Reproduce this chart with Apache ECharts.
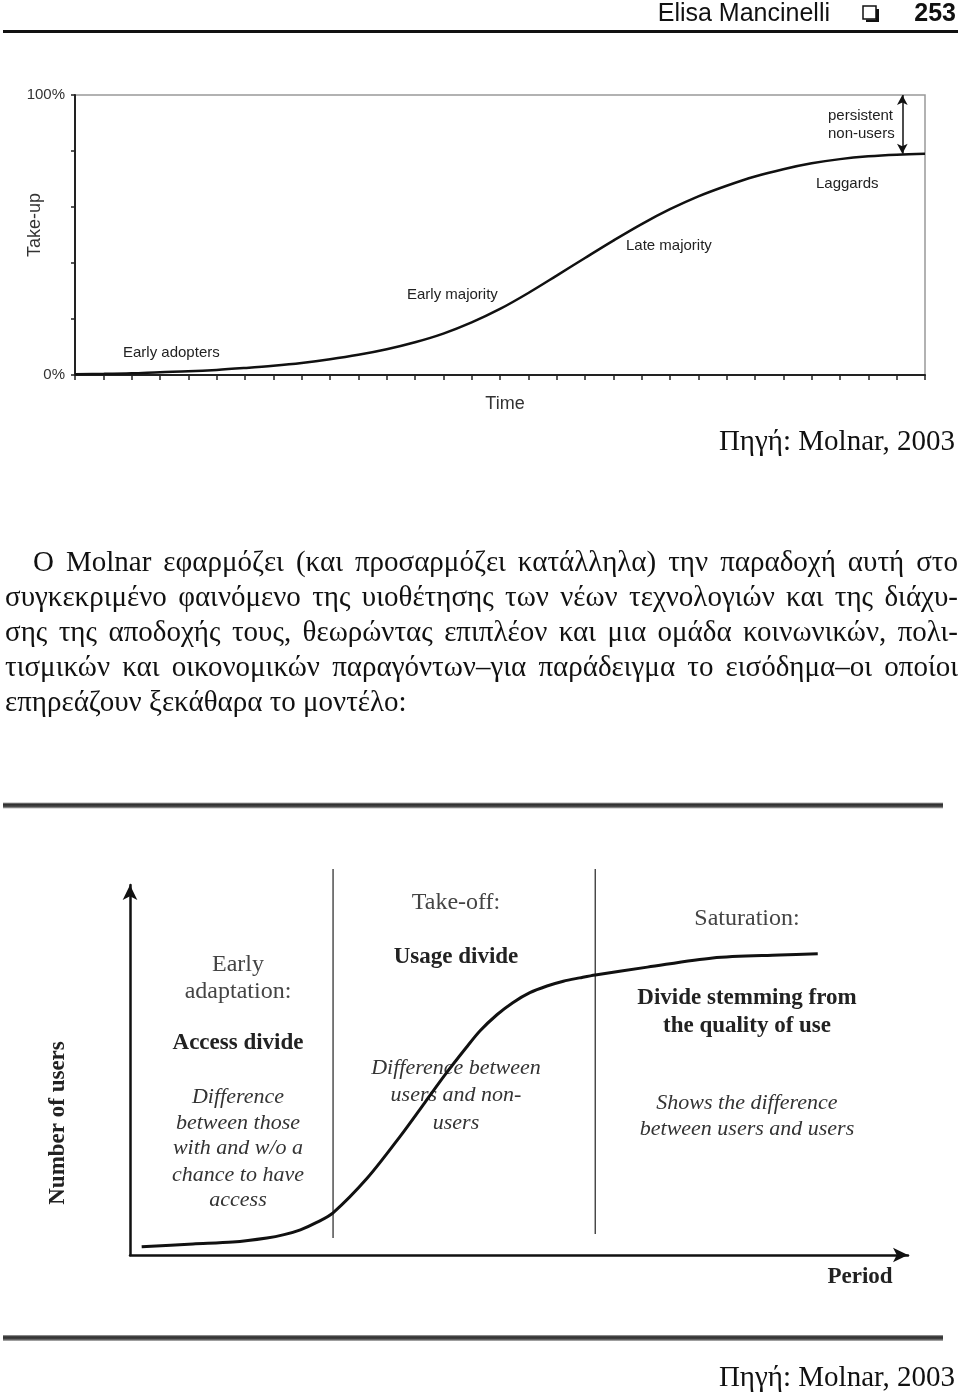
<!DOCTYPE html>
<html>
<head>
<meta charset="utf-8">
<script src="https://cdn.jsdelivr.net/npm/echarts@6/dist/echarts.min.js"></script>
<style>
html,body{margin:0;padding:0;background:#fff;}
#page{position:relative;width:960px;height:1398px;overflow:hidden;background:#fff;}
#chart{position:absolute;left:0;top:0;width:960px;height:1398px;}
#para{position:absolute;left:5px;top:544px;width:953px;font-family:"Liberation Serif","Times New Roman",serif;font-size:29px;line-height:35px;color:#111;}
#para div{text-align:justify;text-align-last:justify;height:35px;}
#para div.first{text-indent:28px;}
#para div.last{text-align:left;text-align-last:left;}
</style>
</head>
<body>
<div id="page">
  <div id="chart"></div>
  <div id="para"></div>
</div>
<script>
// ---------- Data: top chart (diffusion S-curve, Take-up % over Time ticks) ----------
const takeupX = [0,1,2,3,4,5,6,7,8,9,10,11,12,13,14,15,16,17,18,19,20,21,22,23,24,25,26,27,28,29,30];
const takeupY = [0.3,0.4,0.6,1.0,1.3,1.8,2.5,3.3,4.3,5.6,7.2,9.2,11.7,14.8,18.8,23.6,29.3,35.5,41.8,48,53.9,59.2,63.8,67.6,70.9,73.5,75.6,77.1,78.1,78.7,79];
const takeupTicks = ['0%','100%'];
const persistentAt = 29.2;      // x position of the "persistent non-users" gap arrow
const plateauLevel = 79;        // saturation level (% take-up)

// ---------- Data: bottom chart (Number of users over Period) ----------
const periodX = [1.5,8.1,13.2,17.6,19.8,21.9,24.0,26.1,30.5,34.7,37.9,40.6,43.2,45.0,47.2,49.2,51.4,53.6,55.7,57.8,59.8,66.5,74.9,83.5,88.4];
const usersY  = [2.2,3.0,3.5,4.6,5.5,6.8,8.8,11.4,20.8,32.0,41.2,49.0,56.0,60.6,65.0,68.2,70.9,72.7,74.0,74.9,75.7,77.8,80.3,81.1,81.4];
const stageDividers = [26.1, 59.8];
const dividerFrom = [4.6, 5.7];
const dividerTo = [104.3, 104.3];

// ---------- Text ----------
const topLabels = ['Early adopters','Early majority','Late majority','Laggards','persistent','non-users'];
const stageTitles = [['Early','adaptation:'],['Take-off:'],['Saturation:']];
const stageDivides = [['Access divide'],['Usage divide'],['Divide stemming from','the quality of use']];
const stageNotes = [
  ['Difference','between those','with and w/o a','chance to have','access'],
  ['Difference between','users and non-','users'],
  ['Shows the difference','between users and users']
];
const paraLines = [
  'Ο Molnar εφαρμόζει (και προσαρμόζει κατάλληλα) την παραδοχή αυτή στο',
  'συγκεκριμένο φαινόμενο της υιοθέτησης των νέων τεχνολογιών και της διάχυ-',
  'σης της αποδοχής τους, θεωρώντας επιπλέον και μια ομάδα κοινωνικών, πολι-',
  'τισμικών και οικονομικών παραγόντων–για παράδειγμα το εισόδημα–οι οποίοι',
  'επηρεάζουν ξεκάθαρα το μοντέλο:'
];
const sourceText = 'Πηγή: Molnar, 2003';

// paragraph (justified lines)
const para = document.getElementById('para');
paraLines.forEach((t,i)=>{
  const d = document.createElement('div');
  d.textContent = t;
  if(i===0) d.className='first';
  if(i===paraLines.length-1) d.className='last';
  para.appendChild(d);
});

const SANS = '"Liberation Sans", Arial, sans-serif';
const SERIF = '"Liberation Serif", "Times New Roman", serif';

function txt(x,y,text,font,fill,align,rot){
  return {type:'text', x:x, y:y, rotation:rot||0, silent:true,
    style:{text:text, font:font, fill:fill||'#222', textAlign:align||'left', textVerticalAlign:'middle'}};
}

const g = [];
// header
g.push(txt(830,14,'Elisa Mancinelli','25px '+SANS,'#111','right'));
g.push({type:'rect', shape:{x:863,y:6,width:13,height:13}, style:{fill:'none',stroke:'#111',lineWidth:1.5}});
g.push({type:'rect', shape:{x:876,y:9,width:3,height:13}, style:{fill:'#111'}});
g.push({type:'rect', shape:{x:866,y:19.5,width:13,height:2.5}, style:{fill:'#111'}});
g.push(txt(956,14,'253','bold 25px '+SANS,'#111','right'));
g.push({type:'rect', shape:{x:3,y:30,width:955,height:3}, style:{fill:'#111'}});

// top chart texts
g.push(txt(35,225,'Take-up','18px '+SANS,'#333','center',Math.PI/2));
g.push(txt(505,404,'Time','18px '+SANS,'#333','center'));
g.push(txt(123,353,topLabels[0],'15px '+SANS,'#222','left'));
g.push(txt(407,295,topLabels[1],'15px '+SANS,'#222','left'));
g.push(txt(626,246,topLabels[2],'15px '+SANS,'#222','left'));
g.push(txt(816,184,topLabels[3],'15px '+SANS,'#222','left'));
g.push(txt(828,116,topLabels[4],'15px '+SANS,'#222','left'));
g.push(txt(828,134,topLabels[5],'15px '+SANS,'#222','left'));
g.push(txt(955,442,sourceText,'29px '+SERIF,'#111','right'));

// rules around bottom figure
const ruleGrad = {type:'linear',x:0,y:0,x2:0,y2:1,colorStops:[{offset:0,color:'#aaa'},{offset:0.3,color:'#2e2e2e'},{offset:0.65,color:'#444'},{offset:1,color:'#bbb'}]};
g.push({type:'rect', shape:{x:3,y:802.5,width:940,height:6}, style:{fill:ruleGrad}});
g.push({type:'rect', shape:{x:3,y:1335,width:940,height:6}, style:{fill:ruleGrad}});

// bottom chart texts
const stageCx = [238,456,747];
const titleY = [[965,992],[903],[919]];
const divideY = [[1043],[957],[998,1026]];
const noteY = [[1097,1123,1148,1175,1200],[1068,1095,1123],[1103,1129]];
for(let s=0;s<3;s++){
  stageTitles[s].forEach((t,i)=>g.push(txt(stageCx[s],titleY[s][i],t,'24px '+SERIF,'#444','center')));
  stageDivides[s].forEach((t,i)=>g.push(txt(stageCx[s],divideY[s][i],t,'bold 23px '+SERIF,'#222','center')));
  stageNotes[s].forEach((t,i)=>g.push(txt(stageCx[s],noteY[s][i],t,'italic 22px '+SERIF,'#333','center')));
}
g.push(txt(58,1123,'Number of users','bold 23px '+SERIF,'#222','center',Math.PI/2));
g.push(txt(860,1277,'Period','bold 23px '+SERIF,'#222','center'));
g.push(txt(955,1378,sourceText,'29px '+SERIF,'#111','right'));

const chart = echarts.init(document.getElementById('chart'), null, {renderer:'canvas'});

const dividerSeries = stageDividers.map((x,i)=>({
  type:'line', xAxisIndex:1, yAxisIndex:1, clip:false, silent:true,
  showSymbol:false, symbol:'none', z:1,
  data:[[x,dividerFrom[i]],[x,dividerTo[i]]],
  lineStyle:{color:'#333',width:1.3}
}));

chart.setOption({
  animation:false,
  backgroundColor:'transparent',
  grid:[
    {left:75, top:95, width:850, height:280, show:true, borderColor:'#999', borderWidth:1.5, backgroundColor:'transparent'},
    {left:130, top:885, width:778, height:370}
  ],
  xAxis:[
    {gridIndex:0, type:'value', min:0, max:30, interval:1,
     axisLine:{show:true, lineStyle:{color:'#222',width:2}},
     axisTick:{show:true, inside:false, length:5, lineStyle:{color:'#222',width:1.5}},
     axisLabel:{show:false}, splitLine:{show:false}},
    {gridIndex:1, type:'value', min:0, max:100,
     axisLine:{show:true, symbol:['none','arrow'], symbolSize:[11,15], lineStyle:{color:'#111',width:2.5}},
     axisTick:{show:false}, axisLabel:{show:false}, splitLine:{show:false}}
  ],
  yAxis:[
    {gridIndex:0, type:'value', min:0, max:100, interval:20,
     axisLine:{show:true, lineStyle:{color:'#222',width:2}},
     axisTick:{show:true, length:4, lineStyle:{color:'#222',width:1.5}},
     axisLabel:{show:true, margin:10, fontSize:15, fontFamily:'Liberation Sans', color:'#333',
       formatter:function(v){ return v===0?takeupTicks[0]:(v===100?takeupTicks[1]:''); }},
     splitLine:{show:false}},
    {gridIndex:1, type:'value', min:0, max:100,
     axisLine:{show:true, symbol:['none','arrow'], symbolSize:[11,15], lineStyle:{color:'#111',width:2.5}},
     axisTick:{show:false}, axisLabel:{show:false}, splitLine:{show:false}}
  ],
  series:[
    {type:'line', xAxisIndex:0, yAxisIndex:0, smooth:0.35, showSymbol:false, symbol:'none', silent:true,
     data:takeupX.map((x,i)=>[x,takeupY[i]]),
     lineStyle:{color:'#111',width:2.5},
     markLine:{silent:true, symbol:['arrow','arrow'], symbolSize:[8,10], label:{show:false},
       lineStyle:{color:'#111',width:1.5,type:'solid'},
       data:[[{coord:[persistentAt,100]},{coord:[persistentAt,plateauLevel]}]]}},
    {type:'line', xAxisIndex:1, yAxisIndex:1, smooth:0.3, showSymbol:false, symbol:'none', silent:true, z:3,
     data:periodX.map((x,i)=>[x,usersY[i]]),
     lineStyle:{color:'#111',width:3}}
  ].concat(dividerSeries),
  graphic:g
});
</script>
</body>
</html>
